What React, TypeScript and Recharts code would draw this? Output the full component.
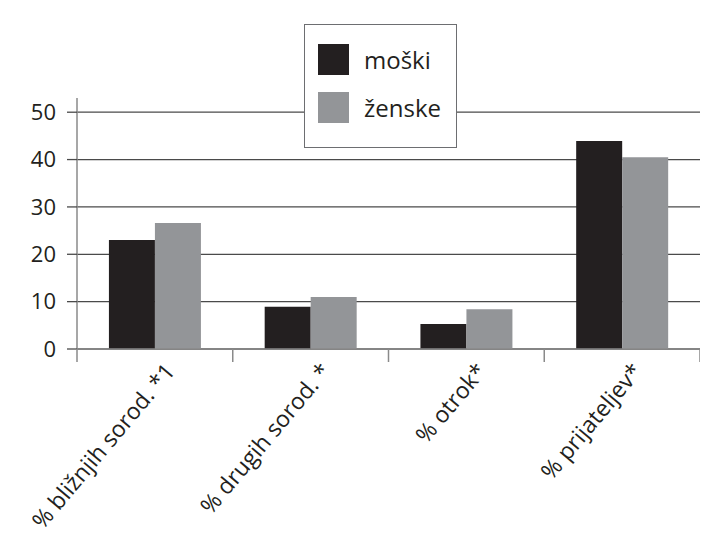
import { BarChart, Bar, XAxis, YAxis, CartesianGrid, Legend } from 'recharts';

const categories = ['% bližnjih sorod. *1', '% drugih sorod. *', '% otrok*', '% prijateljev*'];
const moski = [23.0, 8.9, 5.3, 43.9];
const zenske = [26.6, 11.0, 8.4, 40.5];
const yTicks = [0, 10, 20, 30, 40, 50];

const seriesNames = ['moški', 'ženske'];
const seriesColors = ['#231f20', '#939598'];

const data = categories.map((name, i) => ({ name, moski: moski[i], zenske: zenske[i] }));

const FONT = '"Open Sans", "Noto Sans", sans-serif';
const AXIS_GRAY = '#8a8a8a';

const CategoryTick = (props: any) => {
  const { x, y, payload, index } = props;
  const half = payload && payload.offset ? payload.offset : 79;
  const last = index === categories.length - 1;
  return (
    <g>
      <line x1={x - half} y1={y} x2={x - half} y2={y + 13} stroke={AXIS_GRAY} strokeWidth={1.5} />
      {last && <line x1={x + half} y1={y} x2={x + half} y2={y + 13} stroke={AXIS_GRAY} strokeWidth={1.5} />}
      <text
        x={x + 6}
        y={y + 10}
        textAnchor="end"
        dominantBaseline="hanging"
        transform={`rotate(-50, ${x + 6}, ${y + 10})`}
        fontSize={23}
        fontFamily={FONT}
        fill="#231f20"
      >
        {payload.value}
      </text>
    </g>
  );
};

const LegendBox = () => (
  <div
    style={{
      width: 153,
      height: 124,
      boxSizing: 'border-box',
      border: '1.5px solid #6d6e71',
      background: '#fff',
      position: 'relative',
      fontFamily: FONT,
    }}
  >
    {seriesNames.map((s, i) => (
      <div key={s} style={{ position: 'absolute', left: 13, top: 19 + i * 48, display: 'flex', alignItems: 'center' }}>
        <div style={{ width: 31, height: 31, background: seriesColors[i] }} />
        <span style={{ marginLeft: 15, fontSize: 24, color: '#231f20', lineHeight: '31px' }}>{s}</span>
      </div>
    ))}
  </div>
);

export default function App() {
  return (
    <div style={{ position: 'relative', margin: -8, width: 708, height: 549, background: '#fff', overflow: 'hidden' }}>
      <BarChart
        width={708}
        height={549}
        data={data}
        margin={{ top: 98, right: 8, left: 0, bottom: 0 }}
        barCategoryGap="20.5%"
        barGap={0}
      >
        {/* outer frame of the figure */}
        <path d="M6,545 L6,5 L708,5" fill="none" stroke="#231f20" strokeWidth={2} />
        <CartesianGrid
          yAxisId="left"
          vertical={false}
          horizontalValues={yTicks}
          stroke="#4a4a4a"
          strokeWidth={1.3}
        />
        <XAxis
          dataKey="name"
          interval={0}
          height={200}
          tickLine={false}
          tickSize={0}
          tickMargin={0}
          axisLine={{ stroke: AXIS_GRAY, strokeWidth: 1.5 }}
          tick={<CategoryTick />}
        />
        <YAxis
          yAxisId="left"
          width={77}
          domain={[0, 53]}
          ticks={yTicks}
          interval={0}
          tickSize={10}
          tickMargin={11}
          axisLine={{ stroke: AXIS_GRAY, strokeWidth: 1.5 }}
          tickLine={{ stroke: '#4a4a4a', strokeWidth: 1.3 }}
          tick={{ fontSize: 22, fontFamily: FONT, fill: '#231f20' }}
        />
        <YAxis
          yAxisId="right"
          orientation="right"
          width={0}
          domain={[0, 53]}
          tick={false}
          tickLine={false}
          axisLine={{ stroke: AXIS_GRAY, strokeWidth: 1.5 }}
        />
        <Legend
          layout="vertical"
          align="center"
          verticalAlign="middle"
          wrapperStyle={{ position: 'absolute', left: 304, top: 24, width: 153, height: 124 }}
          content={() => <LegendBox />}
        />
        <Bar yAxisId="left" dataKey="moski" name={seriesNames[0]} fill={seriesColors[0]} isAnimationActive={false} />
        <Bar yAxisId="left" dataKey="zenske" name={seriesNames[1]} fill={seriesColors[1]} isAnimationActive={false} />
      </BarChart>
    </div>
  );
}
